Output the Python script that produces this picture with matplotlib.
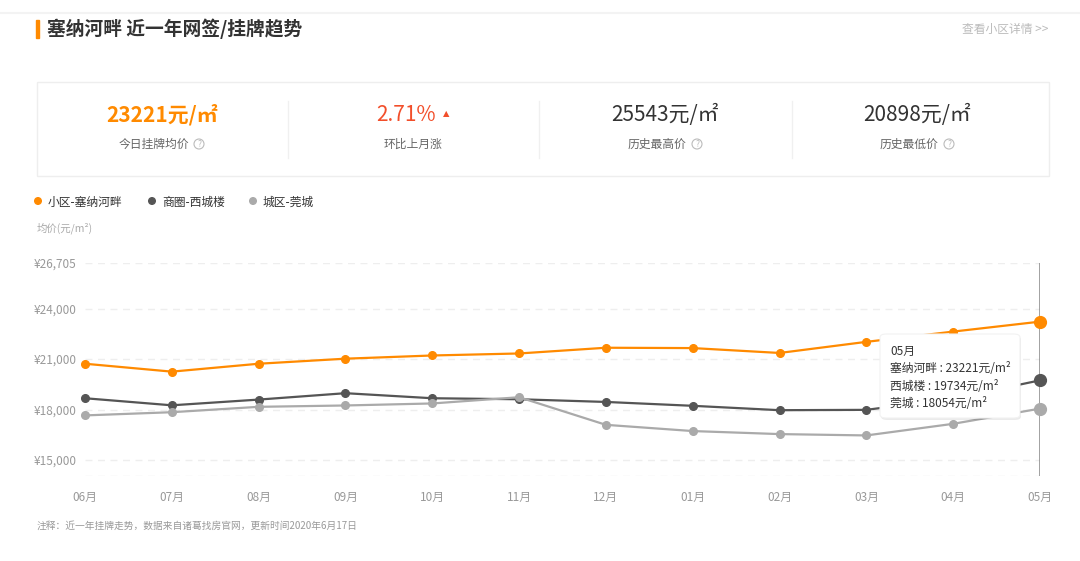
import matplotlib
matplotlib.use("Agg")
import matplotlib.pyplot as plt
from matplotlib.patches import Rectangle, FancyBboxPatch, Ellipse
from matplotlib.lines import Line2D

plt.rcParams['font.family'] = ['Noto Sans CJK SC', 'DejaVu Sans']

# data
months = ['06月', '07月', '08月', '09月', '10月', '11月',
          '12月', '01月', '02月', '03月', '04月', '05月']
xiaoqu = [20720, 20250, 20720, 21020, 21210, 21330,
          21670, 21650, 21360, 22020, 22630, 23221]      # 小区-塞纳河畔
shangquan = [18670, 18250, 18590, 18970, 18670, 18610,
             18450, 18220, 17960, 17980, 18650, 19734]   # 商圈-西城楼
chengqu = [17650, 17840, 18160, 18240, 18360, 18730,
           17090, 16720, 16540, 16460, 17150, 18054]     # 城区-莞城
y_ticks = [15000, 18000, 21000, 24000, 26705]
y_min = 14050

series_names = ['小区-塞纳河畔', '商圈-西城楼', '城区-莞城']
short_names = ['塞纳河畔', '西城楼', '莞城']
colors = ['#FF8A00', '#555555', '#AAAAAA']

stat_values = ['23221元/㎡', '2.71%', '25543元/㎡', '20898元/㎡']
stat_labels = ['今日挂牌均价', '环比上月涨', '历史最高价', '历史最低价']

W, H = 1080, 561


def fx(x):
    return x / W


def fy(y):
    return 1 - y / H


def dot(x, y, r, **kw):
    # round dot in pixel units, placed in figure coords
    fig.add_artist(Ellipse((fx(x), fy(y)), 2 * r / W, 2 * r / H,
                           transform=fig.transFigure, **kw))


fig = plt.figure(figsize=(W / 100, H / 100), dpi=100)
fig.patch.set_facecolor('white')

# top separator + header
fig.add_artist(Line2D([0, 1], [fy(13), fy(13)], color='#F3F3F3', lw=1.5))
fig.add_artist(Rectangle((fx(36), fy(38)), 3 / W, 18 / H, color='#FF8A00'))
fig.text(fx(47), fy(29), '塞纳河畔 近一年网签/挂牌趋势', fontsize=13.5,
         fontweight='bold', color='#333333', va='center', ha='left')
fig.text(fx(1048), fy(29), '查看小区详情 >>', fontsize=8.5, color='#BBBBBB',
         va='center', ha='right')

# stats box
fig.add_artist(Rectangle((fx(37), fy(176)), 1012 / W, 94 / H, fill=False,
                         ec='#EEEEEE', lw=1))
for xd in [288, 539, 792]:
    fig.add_artist(Line2D([fx(xd), fx(xd)], [fy(158), fy(101)],
                          color='#F0F0F0', lw=1))
centers = [162, 413, 665, 917]
icon_off = [37, 0, 32, 32]
value_colors = ['#FF8A00', '#F24E2A', '#333333', '#333333']
for i, (cx, val, lab) in enumerate(zip(centers, stat_values, stat_labels)):
    weight = 'bold' if i == 0 else 'normal'
    fig.text(fx(cx if i != 1 else cx - 7), fy(115), val, fontsize=15,
             color=value_colors[i], ha='center', va='center',
             fontweight=weight)
    if i == 1:
        fig.text(fx(cx), fy(144), lab, fontsize=8.5, color='#666666',
                 ha='center', va='center')
    else:
        fig.text(fx(cx - 8), fy(144), lab, fontsize=8.5, color='#666666',
                 ha='center', va='center')
        qx = cx + icon_off[i]
        dot(qx, 144, 5, fill=False, ec='#BBBBBB', lw=0.8)
        fig.text(fx(qx), fy(144.5), '?', fontsize=5.5, color='#BBBBBB',
                 ha='center', va='center', family='DejaVu Sans')
fig.text(fx(446), fy(114), '▲', fontsize=6, color='#F24E2A',
         ha='center', va='center', family='DejaVu Sans')

# legend
legend_x = [38, 152, 253]
for lx, name, c in zip(legend_x, series_names, colors):
    dot(lx, 201, 3.3, color=c)
    fig.text(fx(lx + 10), fy(202), name, fontsize=8.5, color='#333333',
             ha='left', va='center')
fig.text(fx(37), fy(228), '均价(元/m²)', fontsize=7.5, color='#AAAAAA',
         ha='left', va='center')

# chart
ax = fig.add_axes([fx(85), fy(476), 955 / W, 213 / H])
x = list(range(len(months)))
for vals, c in zip([xiaoqu, shangquan, chengqu], colors):
    ax.plot(x, vals, color=c, lw=1.6, marker='o', ms=5.5, zorder=3,
            clip_on=False)
    ax.plot(x[-1], vals[-1], 'o', color=c, ms=8.5, zorder=4, clip_on=False)

for yt in y_ticks + [y_min]:
    ax.axhline(yt, color='#EEEEEE', lw=1, ls=(0, (5, 4)), zorder=0)
ax.axvline(x[-1], color='#888888', lw=1.1, zorder=2)

ax.set_xlim(0, len(months) - 1)
ax.set_ylim(y_min, y_ticks[-1])
ax.set_yticks(y_ticks)
ax.set_yticklabels(['¥{:,}'.format(v) for v in y_ticks])
ax.set_xticks(x)
ax.set_xticklabels(months)
ax.tick_params(axis='y', length=0, pad=6, labelsize=8.5, labelcolor='#999999')
ax.tick_params(axis='x', length=0, pad=11, labelsize=8.5, labelcolor='#999999')
for s in ax.spines.values():
    s.set_visible(False)
ax.set_facecolor('none')

# tooltip
tx0, ty0, tx1, ty1 = 880, 334, 1020, 418
shadow = FancyBboxPatch((fx(tx0 + 1), fy(ty1 + 2)), (tx1 - tx0) / W,
                        (ty1 - ty0) / H,
                        boxstyle='round,pad=0,rounding_size=0.006',
                        fc='#000000', alpha=0.08, ec='none',
                        transform=fig.transFigure, zorder=9)
box = FancyBboxPatch((fx(tx0), fy(ty1)), (tx1 - tx0) / W, (ty1 - ty0) / H,
                     boxstyle='round,pad=0,rounding_size=0.006',
                     fc='white', ec='#F2F2F2', lw=0.8,
                     transform=fig.transFigure, zorder=10)
fig.add_artist(shadow)
fig.add_artist(box)
lines = [months[-1]] + ['{} : {}元/m²'.format(n, v[-1]) for n, v in
                        zip(short_names, [xiaoqu, shangquan, chengqu])]
for k, t in enumerate(lines):
    fig.text(fx(tx0 + 10), fy(351 + k * 17.5), t, fontsize=8.5,
             color='#333333', ha='left', va='center', zorder=11)

# footnote
fig.text(fx(37), fy(526), '注释：近一年挂牌走势，数据来自诸葛找房官网，更新时间2020年6月17日',
         fontsize=7, color='#999999', ha='left', va='center')

fig.savefig('out.png', dpi=100, facecolor='white')
